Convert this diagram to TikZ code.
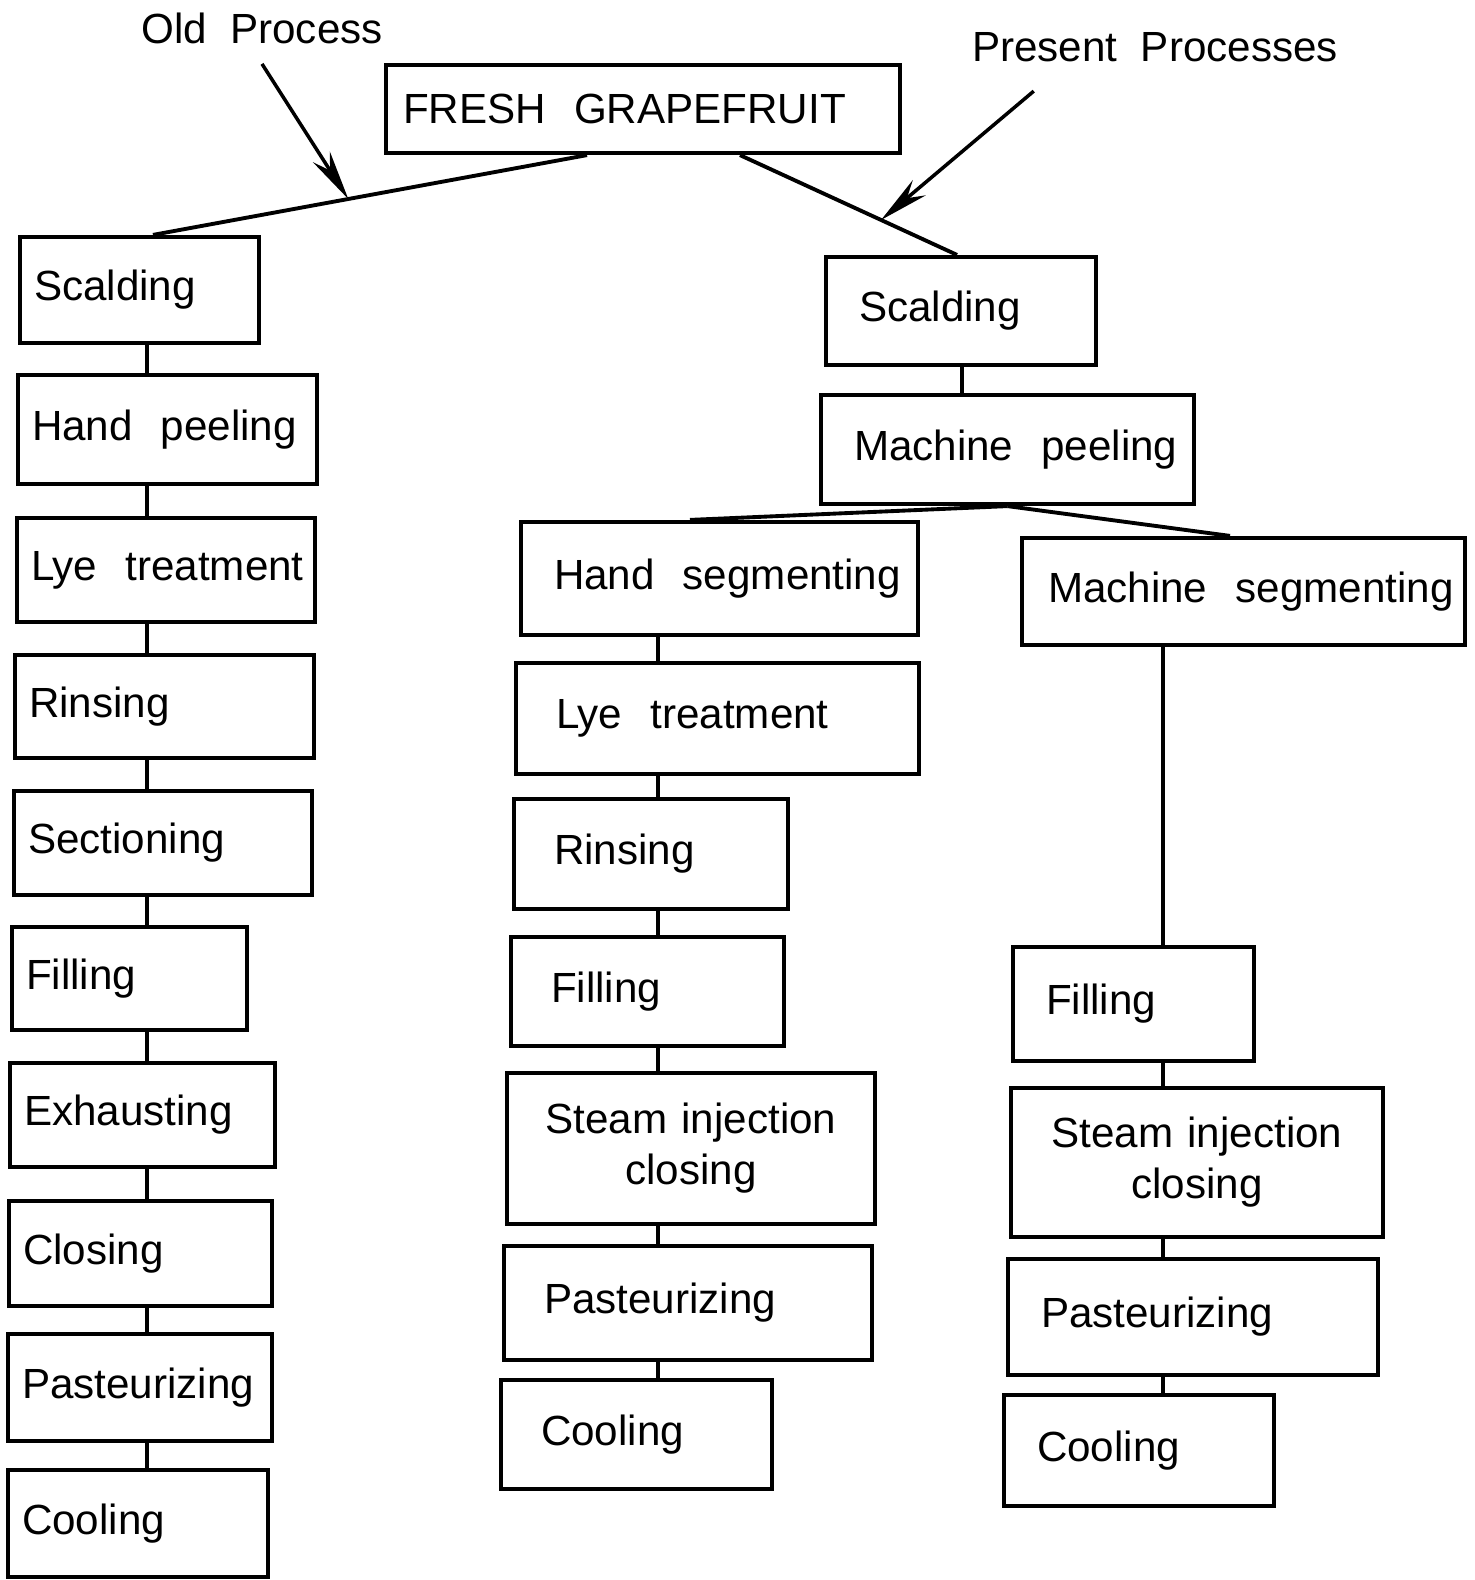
\documentclass[tikz,border=0pt]{standalone}
\usepackage{fontspec}
\setmainfont{Liberation Sans}
\usetikzlibrary{arrows.meta}

\begin{document}
\begin{tikzpicture}[
        x=0.1mm, y=-0.1mm, font=\fontsize{12}{14.5}\selectfont,
        pbox/.style={draw, line width=1.2pt, align=left, inner ysep=0pt,
            execute at begin node={\hyphenpenalty=10000\relax}},
        oldbox/.style={pbox, inner xsep=1.4mm},
        midbox/.style={pbox, inner xsep=4mm},
        newbox/.style={pbox, inner xsep=3.3mm},
        link/.style={line width=0.9pt},
        branch/.style={line width=1.1pt},
        pointer/.style={line width=1pt, -{Stealth[length=5mm, width=2mm]}}
    ]
        \useasboundingbox (0,0) rectangle (1475,1580);
        % top
        \node[pbox, inner xsep=1.7mm, text width=48mm, minimum height=8.8mm] (fresh) at (643,109) {FRESH~~GRAPEFRUIT};
        \node (old) at (262,28) {Old~~Process};
        \node (pres) at (1155,47) {Present~~Processes};
        % old process
        \node[oldbox, text width=21.1mm, minimum height=10.6mm] (os1) at (139.5,290) {Scalding};
        \node[oldbox, text width=27.1mm, minimum height=10.9mm] (os2) at (167.5,429.5) {Hand~~peeling};
        \node[oldbox, text width=27.0mm, minimum height=10.4mm] (os3) at (166,570) {Lye~~treatment};
        \node[oldbox, text width=27.1mm, minimum height=10.3mm] (os4) at (164.5,706.5) {Rinsing};
        \node[oldbox, text width=27.0mm, minimum height=10.4mm] (os5) at (163,843) {Sectioning};
        \node[oldbox, text width=20.7mm, minimum height=10.3mm] (os6) at (129.5,978.5) {Filling};
        \node[oldbox, text width=23.7mm, minimum height=10.4mm] (os7) at (142.5,1115) {Exhausting};
        \node[oldbox, text width=23.5mm, minimum height=10.5mm] (os8) at (140.5,1253.5) {Closing};
        \node[oldbox, text width=23.6mm, minimum height=10.7mm] (os9) at (140,1387.5) {Pasteurizing};
        \node[oldbox, text width=23.2mm, minimum height=10.7mm] (os10) at (138,1523.5) {Cooling};
        % present processes
        \node[newbox, text width=20.4mm, minimum height=10.8mm] (ns1) at (961,311) {Scalding};
        \node[newbox, text width=30.7mm, minimum height=10.9mm] (ns2) at (1007.5,449.5) {Machine~~peeling};
        \node[midbox, inner xsep=3.3mm, text width=33.1mm, minimum height=11.3mm] (ms1) at (719.5,578.5) {Hand~~segmenting};
        \node[midbox, text width=32.3mm, minimum height=11.1mm] (ms2) at (717.5,718.5) {Lye~~treatment};
        \node[midbox, text width=19.4mm, minimum height=11mm] (ms3) at (651,854) {Rinsing};
        \node[midbox, text width=19.3mm, minimum height=10.9mm] (ms4) at (647.5,991.5) {Filling};
        \node[midbox, align=center, inner xsep=3mm, text width=30.8mm, minimum height=15.1mm] (ms5) at (691,1148.5) {Steam~injection\\closing};
        \node[midbox, text width=28.8mm, minimum height=11.4mm] (ms6) at (688,1303) {Pasteurizing};
        \node[midbox, text width=19.1mm, minimum height=10.9mm] (ms7) at (636.5,1434.5) {Cooling};
        \node[newbox, inner xsep=2.6mm, text width=39.1mm, minimum height=10.7mm] (ns3) at (1243.5,591.5) {Machine~~segmenting};
        \node[newbox, text width=17.5mm, minimum height=11.4mm] (ns4) at (1133.5,1004) {Filling};
        \node[newbox, align=center, inner xsep=3mm, text width=31.2mm, minimum height=14.9mm] (ns5) at (1197,1162.5) {Steam~injection\\closing};
        \node[newbox, text width=30.4mm, minimum height=11.6mm] (ns6) at (1193,1317) {Pasteurizing};
        \node[newbox, text width=20.4mm, minimum height=11.1mm] (ns7) at (1139,1450.5) {Cooling};
        % x positions of the joins
        \coordinate (oc) at (147,0); \coordinate (mc) at (658,0);
        \coordinate (nc) at (962,0); \coordinate (rc) at (1163,0);
        \coordinate (fl) at (587,0); \coordinate (fr) at (740,0);
        \coordinate (ol) at (153,0); \coordinate (nl) at (957,0);
        \coordinate (hl) at (690,0); \coordinate (ml) at (1230,0);
        % branches
        \draw[branch] (fresh.south -| fl) -- coordinate[pos=0.55] (oldtip) (os1.north -| ol);
        \draw[branch] (fresh.south -| fr) -- coordinate[pos=0.65] (newtip) (ns1.north -| nl);
        \draw[pointer] ([yshift=-0.8mm]old.south) -- (oldtip);
        \draw[pointer] ([xshift=7.4mm,yshift=-1.7mm]pres.south west) -- (newtip);
        \draw[branch] (ns2.south) -- (ms1.north -| hl);
        \draw[branch] (ns2.south) -- (ns3.north -| ml);
        % chains
        \draw[link] (os1.south -| oc) -- (os2.north -| oc); \draw[link] (os2.south -| oc) -- (os3.north -| oc);
        \draw[link] (os3.south -| oc) -- (os4.north -| oc); \draw[link] (os4.south -| oc) -- (os5.north -| oc);
        \draw[link] (os5.south -| oc) -- (os6.north -| oc); \draw[link] (os6.south -| oc) -- (os7.north -| oc);
        \draw[link] (os7.south -| oc) -- (os8.north -| oc); \draw[link] (os8.south -| oc) -- (os9.north -| oc);
        \draw[link] (os9.south -| oc) -- (os10.north -| oc);
        \draw[link] (ns1.south -| nc) -- (ns2.north -| nc);
        \draw[link] (ms1.south -| mc) -- (ms2.north -| mc); \draw[link] (ms2.south -| mc) -- (ms3.north -| mc);
        \draw[link] (ms3.south -| mc) -- (ms4.north -| mc); \draw[link] (ms4.south -| mc) -- (ms5.north -| mc);
        \draw[link] (ms5.south -| mc) -- (ms6.north -| mc); \draw[link] (ms6.south -| mc) -- (ms7.north -| mc);
        \draw[link] (ns3.south -| rc) -- (ns4.north -| rc); \draw[link] (ns4.south -| rc) -- (ns5.north -| rc);
        \draw[link] (ns5.south -| rc) -- (ns6.north -| rc); \draw[link] (ns6.south -| rc) -- (ns7.north -| rc);
    \end{tikzpicture}
\end{document}
